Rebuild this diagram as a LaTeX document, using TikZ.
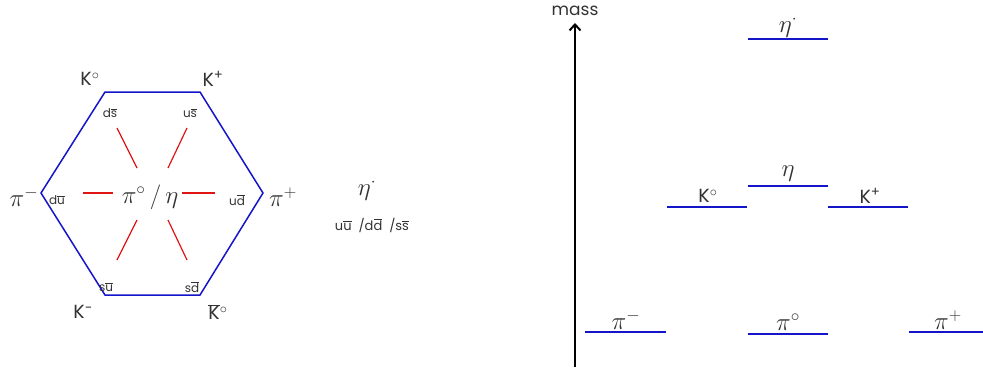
\documentclass[tikz,border=0pt]{standalone}
\usepackage{fontspec}
\setmainfont{Poppins}
\usetikzlibrary{arrows.meta}
\definecolor{hexblue}{RGB}{20,20,200}
\definecolor{lred}{RGB}{225,20,20}
\definecolor{txt}{RGB}{50,50,50}
\newcommand\qb[1]{\ensuremath{\overline{\mbox{#1}}}}
\newcommand\dg{\ensuremath{^{\circ}}}
\begin{document}
\begin{tikzpicture}[x=1pt,y=-1pt,
  hexline/.style={draw=hexblue,line width=1.5pt},
  redline/.style={draw=lred,line width=1.2pt},
  level/.style={draw=hexblue,line width=2pt},
  big/.style={text=txt,font=\fontsize{19}{21}\selectfont,inner sep=0pt},
  gr/.style={text=txt,font=\fontsize{24}{26}\selectfont,inner sep=0pt},
  small/.style={text=txt,font=\fontsize{12}{14}\selectfont,inner sep=0pt},
  axis/.style={draw=black,line width=2pt,-{Straight Barb[length=6pt,width=11pt,line width=2pt]}}]
\useasboundingbox (0,0) rectangle (983,367);
% hexagon
\coordinate (h1) at (105,92);
\coordinate (h2) at (200,92);
\coordinate (h3) at (263,193);
\coordinate (h4) at (200,295);
\coordinate (h5) at (105,295);
\coordinate (h6) at (41,193);
\draw[hexline] (h1) -- (h2) -- (h3) -- (h4) -- (h5) -- (h6) -- cycle;
% corner labels
\node[big] (K0) at (90,79) {K\dg};
\node[big] (Kp) at (213,79) {K\textsuperscript{+}};
\node[gr] (pim) at (24,197) {$\pi^{-}$};
\node[gr] (pip) at (283,197) {$\pi^{+}$};
\node[big] (Km) at (83,312) {K\textsuperscript{−}};
\node[big] (K0b) at (218,312) {\qb{K}\dg};
% quark labels
\node[small] (ds) at (110,113) {d\qb{s}};
\node[small] (us) at (190,113) {u\qb{s}};
\node[small] (du) at (57,200) {d\qb{u}};
\node[small] (ud) at (237,200) {u\qb{d}};
\node[small] (su) at (106,287) {s\qb{u}};
\node[small] (sd) at (192,287) {s\qb{d}};
\node[gr] (ctr) at (150,197) {$\pi^{\circ}\,/\,\eta$};
% red lines
\coordinate (a1) at (117,128); \coordinate (a2) at (137,168);
\coordinate (b1) at (187,128); \coordinate (b2) at (168,168);
\coordinate (c1) at (83,193);  \coordinate (c2) at (113,193);
\coordinate (d1) at (182,193); \coordinate (d2) at (215,193);
\coordinate (e1) at (137,220); \coordinate (e2) at (117,260);
\coordinate (f1) at (168,220); \coordinate (f2) at (187,260);
\draw[redline] (a1) -- (a2);
\draw[redline] (b1) -- (b2);
\draw[redline] (c1) -- (c2);
\draw[redline] (d1) -- (d2);
\draw[redline] (e1) -- (e2);
\draw[redline] (f1) -- (f2);
% singlet
\node[gr] (etap) at (367,190) {$\eta^{\cdot}$};
\node[small,font=\fontsize{13}{15}\selectfont] (singlet) at (372,225) {u\qb{u}\ \ /d\qb{d}\ \ /s\qb{s}};
% mass axis
\coordinate (ax0) at (575,367);
\coordinate (ax1) at (575,23);
\draw[axis] (ax0) -- (ax1);
\node[small,font=\fontsize{17}{19}\selectfont] (mass) at (575,11) {mass};
% levels
\coordinate (L1a) at (748,39);  \coordinate (L1b) at (828,39);
\coordinate (L2a) at (748,186); \coordinate (L2b) at (828,186);
\coordinate (L3a) at (667,207); \coordinate (L3b) at (747,207);
\coordinate (L4a) at (828,207); \coordinate (L4b) at (908,207);
\coordinate (L5a) at (585,332); \coordinate (L5b) at (666,332);
\coordinate (L6a) at (748,334); \coordinate (L6b) at (828,334);
\coordinate (L7a) at (909,332); \coordinate (L7b) at (983,332);
\draw[level] (L1a) -- (L1b);
\draw[level] (L2a) -- (L2b);
\draw[level] (L3a) -- (L3b);
\draw[level] (L4a) -- (L4b);
\draw[level] (L5a) -- (L5b);
\draw[level] (L6a) -- (L6b);
\draw[level] (L7a) -- (L7b);
\node[gr] (letap) at (788,27) {$\eta^{\cdot}$};
\node[gr] (leta) at (788,174) {$\eta$};
\node[big] (lK0) at (708,196) {K\dg};
\node[big] (lKp) at (870,196) {K\textsuperscript{+}};
\node[gr] (lpim) at (626,320) {$\pi^{-}$};
\node[gr] (lpi0) at (788,322) {$\pi^{\circ}$};
\node[gr] (lpip) at (948,320) {$\pi^{+}$};
\end{tikzpicture}
\end{document}
